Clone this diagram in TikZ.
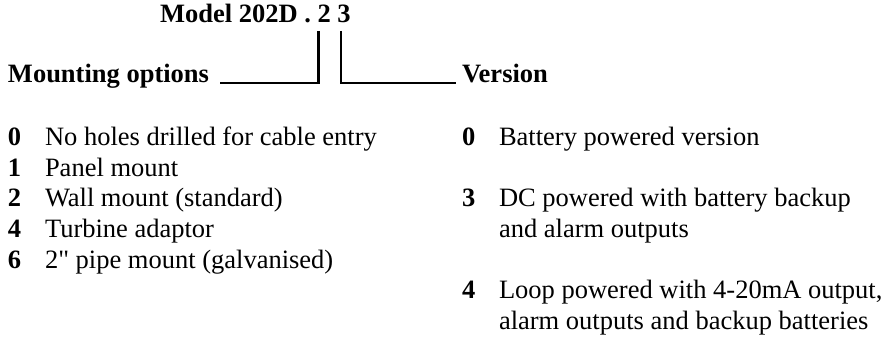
\documentclass[tikz,border=0pt]{standalone}
\usepackage{fontspec}
\setmainfont{Liberation Serif}
\newfontfamily\rawserif{Liberation Serif}
\begin{document}
\begin{tikzpicture}[x=1pt,y=-1pt,
  txt/.style={anchor=base west,inner sep=0pt,outer sep=0pt,font=\fontsize{26.5}{30.5}\selectfont},
  hd/.style={txt,font=\fontsize{26.5}{30.5}\selectfont\bfseries},
  num/.style={txt,font=\fontsize{26.5}{30.5}\selectfont\bfseries},
  leader/.style={line width=2.7pt}]
\useasboundingbox (0,0) rectangle (894,339);
% title
\node[hd] (title) at (160,23) {Model 202D . 2 3};
% headings
\node[hd] (mount) at (8,83) {Mounting options};
\node[hd] (version) at (462,83) {Version};
% leader lines
\coordinate (d2) at (318.5,31);
\coordinate (d3) at (341,31);
\coordinate (mend) at (220,83);
\coordinate (vend) at (456,83);
\draw[leader] (d2) |- (mend);
\draw[leader] (d3) |- (vend);
% left column
\node[num] (l0n) at (8,146) {0};
\node[txt] (l0) at (45,146) {No holes drilled for cable entry};
\node[num] (l1n) at (8,176.5) {1};
\node[txt] (l1) at (45,176.5) {Panel mount};
\node[num] (l2n) at (8,207) {2};
\node[txt] (l2) at (45,207) {Wall mount (standard)};
\node[num] (l4n) at (8,237.5) {4};
\node[txt] (l4) at (45,237.5) {Turbine adaptor};
\node[num] (l6n) at (8,268) {6};
\node[txt] (l6) at (45,268) {2{\rawserif"} pipe mount (galvanised)};
% right column
\node[num] (r0n) at (462,146) {0};
\node[txt] (r0) at (499,146) {Battery powered version};
\node[num] (r3n) at (462,207) {3};
\node[txt] (r3) at (499,207) {DC powered with battery backup};
\node[txt] (r3b) at (499,237.5) {and alarm outputs};
\node[num] (r4n) at (462,298.5) {4};
\node[txt] (r4) at (499,298.5) {Loop powered with 4-20mA output,};
\node[txt] (r4b) at (499,329) {alarm outputs and backup batteries};
\end{tikzpicture}
\end{document}
